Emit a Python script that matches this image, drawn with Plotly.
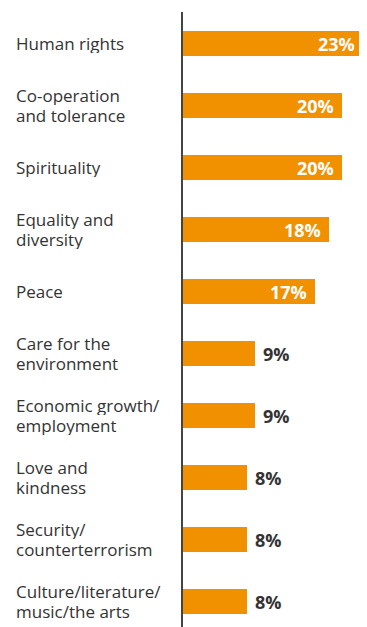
import plotly.graph_objects as go


categories = [
    "Human rights",
    "Co-operation<br>and tolerance",
    "Spirituality",
    "Equality and<br>diversity",
    "Peace",
    "Care for the<br>environment",
    "Economic growth/<br>employment",
    "Love and<br>kindness",
    "Security/<br>counterterrorism",
    "Culture/literature/<br>music/the arts",
]

# bar lengths, printed labels as shown
values = [22.6, 20.0, 20.0, 18.4, 16.6, 9.0, 9.0, 8.0, 8.0, 8.0]
value_labels = ["23%", "20%", "20%", "18%", "17%", "9%", "9%", "8%", "8%", "8%"]


ORANGE = "#F29100"
TEXT = "#333333"
FONT = "Open Sans"

# the page body adds an 8px margin, so the figure is 8px smaller
# and everything inside is shifted back by 8px
W, H = 359, 619
LEFT = 175
TOP = 4

fig = go.Figure()

fig.add_trace(
    go.Bar(
        x=values,
        y=list(range(len(categories))),
        orientation="h",
        marker=dict(color=ORANGE, line=dict(width=0)),
        width=0.40,
        hoverinfo="skip",
        showlegend=False
    )
)


annotations = []

for i, (v, lab) in enumerate(zip(values, value_labels)):

    inside = v >= 10

    annotations.append(
        dict(
            x=v,
            y=i,
            xref="x",
            yref="y",
            text="<b>" + lab + "</b>",
            showarrow=False,
            xanchor="right" if inside else "left",
            xshift=-6 if inside else 6,
            yanchor="middle",
            font=dict(family=FONT, size=18, color="white" if inside else TEXT)
        )
    )


label_x = -(LEFT - 6) / (W - LEFT)

for i, cat in enumerate(categories):

    lines = cat.split("<br>")
    gap = 19.6
    offset0 = (len(lines) - 1) * gap / 2

    for j, line in enumerate(lines):

        annotations.append(
            dict(
                x=label_x,
                y=i,
                xref="paper",
                yref="y",
                text=line,
                showarrow=False,
                xanchor="left",
                yanchor="middle",
                height=19,
                valign="middle",
                yshift=offset0 - j * gap,
                font=dict(family=FONT, size=17, color=TEXT)
            )
        )


fig.update_layout(
    width=W,
    height=H,
    margin=dict(l=LEFT, r=0, t=TOP, b=0, pad=0),
    paper_bgcolor="white",
    plot_bgcolor="white",
    bargap=0,
    annotations=annotations,
    xaxis=dict(
        range=[0, (W - LEFT) / 7.95],
        visible=False,
        fixedrange=True
    ),
    yaxis=dict(
        range=[9.41, -0.51],
        showticklabels=False,
        showgrid=False,
        zeroline=False,
        ticks="",
        showline=True,
        linecolor="#444444",
        linewidth=2,
        fixedrange=True
    )
)


fig.write_html("out.html", config={"displayModeBar": False})
